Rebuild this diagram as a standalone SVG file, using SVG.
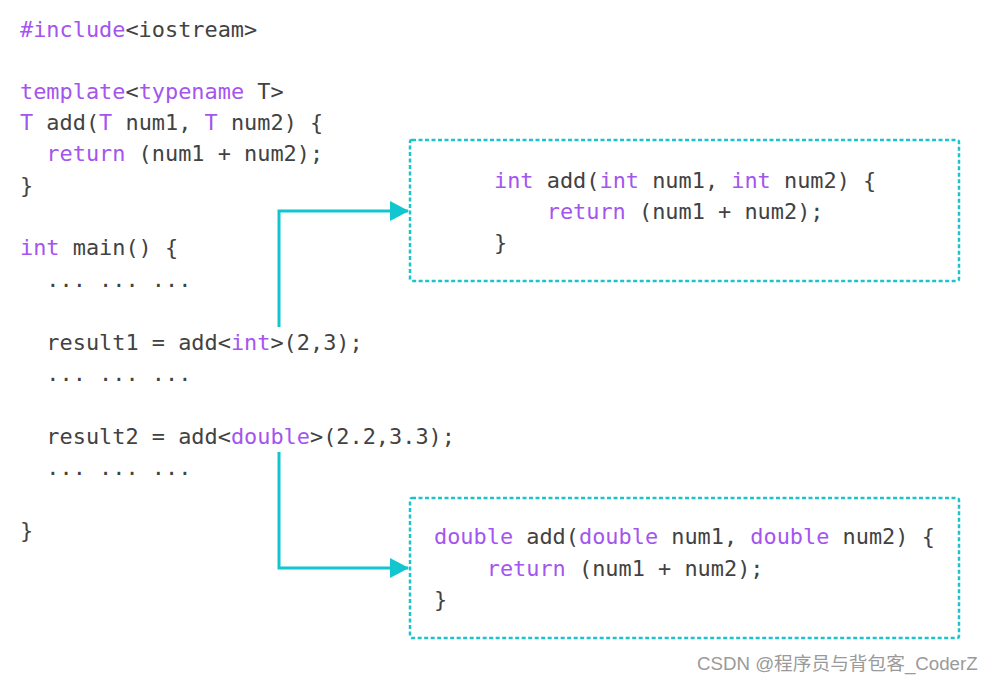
<svg xmlns="http://www.w3.org/2000/svg" width="994" height="682" viewBox="0 0 994 682">
<defs>
<style>
.c{font-family:"DejaVu Sans Mono","Liberation Mono",monospace;font-size:21.9px;fill:#424242;white-space:pre}
.k{fill:#a455f0}
.box{fill:none;stroke:#1cc3cc;stroke-width:2.5;stroke-dasharray:4 2.5}
.con{fill:none;stroke:#12c6cf;stroke-width:3}
.wm{font-family:"Liberation Sans","Noto Sans CJK SC",sans-serif;font-size:18.7px;fill:#9a9a9a}
</style>
<marker id="ah" markerWidth="20" markerHeight="20" refX="18" refY="10" markerUnits="userSpaceOnUse" orient="auto">
<path d="M0,0 L19,10 L0,20 Z" fill="#12c6cf"/>
</marker>
</defs>
<rect width="994" height="682" fill="#ffffff"/>
<g id="source">
<text class="c" x="20" y="37" xml:space="preserve"><tspan class="k">#include</tspan>&lt;iostream&gt;</text>
<text class="c" x="20" y="99" xml:space="preserve"><tspan class="k">template</tspan>&lt;<tspan class="k">typename</tspan> T&gt;</text>
<text class="c" x="20" y="130" xml:space="preserve"><tspan class="k">T</tspan> add(<tspan class="k">T</tspan> num1, <tspan class="k">T</tspan> num2) {</text>
<text class="c" x="20" y="161" xml:space="preserve">  <tspan class="k">return</tspan> (num1 + num2);</text>
<text class="c" x="20" y="193" xml:space="preserve">}</text>
<text class="c" x="20" y="255" xml:space="preserve"><tspan class="k">int</tspan> main() {</text>
<text class="c" x="20" y="287" xml:space="preserve">  ... ... ...</text>
<text class="c" x="20" y="350" xml:space="preserve">  result1 = add&lt;<tspan class="k">int</tspan>&gt;(2,3);</text>
<text class="c" x="20" y="381" xml:space="preserve">  ... ... ...</text>
<text class="c" x="20" y="444" xml:space="preserve">  result2 = add&lt;<tspan class="k">double</tspan>&gt;(2.2,3.3);</text>
<text class="c" x="20" y="475" xml:space="preserve">  ... ... ...</text>
<text class="c" x="20" y="538" xml:space="preserve">}</text>
</g>
<g id="int-instance">
<rect class="box" x="410" y="140" width="549" height="141" rx="2"/>
<text class="c" x="494" y="188" xml:space="preserve"><tspan class="k">int</tspan> add(<tspan class="k">int</tspan> num1, <tspan class="k">int</tspan> num2) {</text>
<text class="c" x="494" y="219" xml:space="preserve">    <tspan class="k">return</tspan> (num1 + num2);</text>
<text class="c" x="494" y="250" xml:space="preserve">}</text>
</g>
<g id="double-instance">
<rect class="box" x="410" y="498" width="549" height="140" rx="2"/>
<text class="c" x="434" y="544" xml:space="preserve"><tspan class="k">double</tspan> add(<tspan class="k">double</tspan> num1, <tspan class="k">double</tspan> num2) {</text>
<text class="c" x="434" y="576" xml:space="preserve">    <tspan class="k">return</tspan> (num1 + num2);</text>
<text class="c" x="434" y="607" xml:space="preserve">}</text>
</g>
<g id="connectors">
<path class="con" d="M279,327 L279,211 L408,211" marker-end="url(#ah)"/>
<path class="con" d="M279,452 L279,568 L408,568" marker-end="url(#ah)"/>
</g>
<text class="wm" x="697" y="670">CSDN @程序员与背包客_CoderZ</text>
</svg>
